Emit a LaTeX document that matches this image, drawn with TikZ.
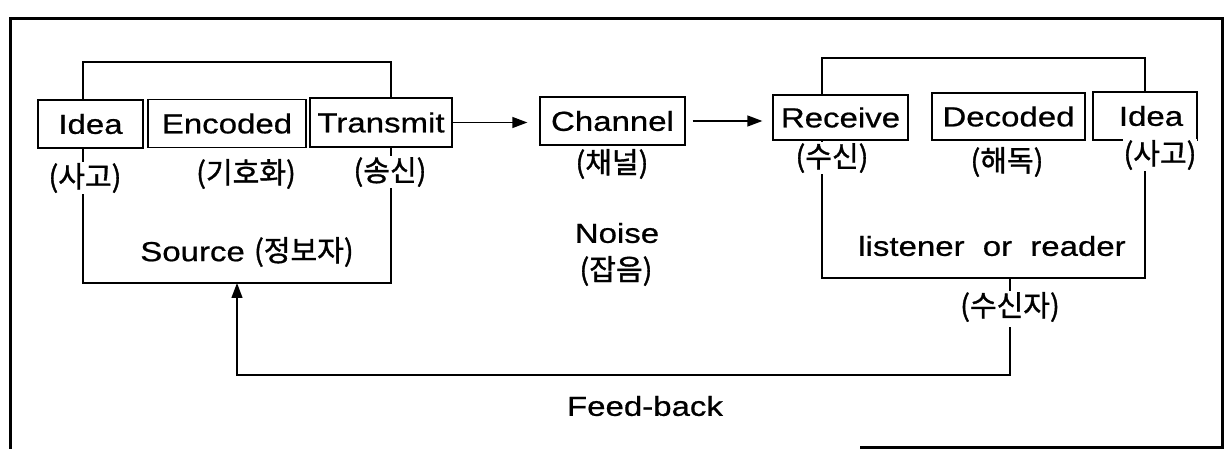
\documentclass[tikz,border=0pt]{standalone}
\usepackage{fontspec}
\setmainfont{Liberation Sans}[FakeStretch=1.2, FakeBold=0.7]
\newfontfamily\kr{Noto Sans CJK KR}[FakeBold=1.2]
\usetikzlibrary{arrows.meta}
\tikzset{
  lat/.style={font=\fontsize{27.5}{30}\selectfont, inner sep=0pt},
  kor/.style={font=\kr\fontsize{29}{32}\selectfont, inner sep=1pt},
  box/.style={draw, line width=1.3pt, lat, align=center},
  line/.style={line width=1.3pt},
  arr/.style={line width=1.3pt, -{Triangle[length=15pt,width=11pt]}},
  frame/.style={line width=3pt}
}
\begin{document}
\begin{tikzpicture}[x=1pt,y=-1pt]
\useasboundingbox (0,0) rectangle (1227,449);
% outer frame
\draw[frame] (860,447) -- (1222,447) -- (1222,19) -- (10,19) -- (10,449);

% source boxes
\node[box, minimum width=105pt, minimum height=48pt] (idea1) at (90.5,124) {Idea};
\node[box, minimum width=158pt, minimum height=48pt] (enc) at (227,123.5) {Encoded};
\node[box, minimum width=142pt, minimum height=49pt] (trans) at (381,122.5) {Transmit};
% channel
\node[box, minimum width=145pt, minimum height=48pt] (chan) at (612.5,121) {Channel};
% receiver boxes
\node[box, minimum width=135pt, minimum height=45pt] (rec) at (840.5,117.5) {Receive};
\node[box, minimum width=153pt, minimum height=47pt] (dec) at (1008.5,116.5) {Decoded};
\node[box, minimum width=104pt, minimum height=48pt] (idea2) at (1145,116) {\hspace*{12pt}Idea};

% bracket coordinates
\coordinate (lt1) at (83,100);
\coordinate (lt2) at (391,98);
\coordinate (lb1) at (83,148);
\coordinate (lb2) at (391,147);
\coordinate (rt1) at (822,95);
\coordinate (rt2) at (1145,92);
\coordinate (rb1) at (822,140);
\coordinate (rb2) at (1145,140);
\coordinate (srcb) at (237,283);
\coordinate (rcvb) at (1010,278);
\coordinate (fb1) at (1010,327);
\coordinate (fbc) at (237,375);

% top brackets
\draw[line] (lt1) -- (83,62) -- (391,62) -- (lt2);
\draw[line] (rt1) -- (822,58) -- (1145,58) -- (rt2);
% lower brackets
\draw[line] (lb1) -- (83,283) -- (391,283) -- (lb2);
\draw[line] (rb1) -- (822,278) -- (1145,278) -- (rb2);

% arrows
\draw[arr, shorten >=12pt] (trans.east) -- (trans.east -| chan.west);
\draw[arr, shorten <=7pt, shorten >=10pt] (chan.east) -- (chan.east -| rec.west);

% korean labels
\node[kor, fill=white] (l1) at (85,178) {(사고)};
\node[kor] (l2) at (246,174) {(기호화)};
\node[kor, fill=white] (l3) at (390,172) {(송신)};
\node[kor] (l4) at (612,164) {(채널)};
\node[kor, fill=white] (l5) at (832,158) {(수신)};
\node[kor] (l6) at (1007,162) {(해독)};
\node[kor, fill=white] (l7) at (1160,155) {(사고)};

% group texts
\node[lat] (src) at (247,252) {Source {\kr\fontsize{29}{32}\selectfont(정보자)}};
\node[lat] (lis) at (992,246) {listener\hspace{9pt} or\hspace{9pt} reader};
\node[lat] (noise) at (617,233) {Noise};
\node[kor] (jab) at (616,271) {(잡음)};
\node[kor] (rcv) at (1010,307) {(수신자)};
\node[lat] (fbt) at (645,406) {Feed-back};

% feedback
\draw[line] (rcvb) -- (rcv.north);
\draw[arr] (fb1) |- (fbc) -- (srcb);
\end{tikzpicture}
\end{document}
